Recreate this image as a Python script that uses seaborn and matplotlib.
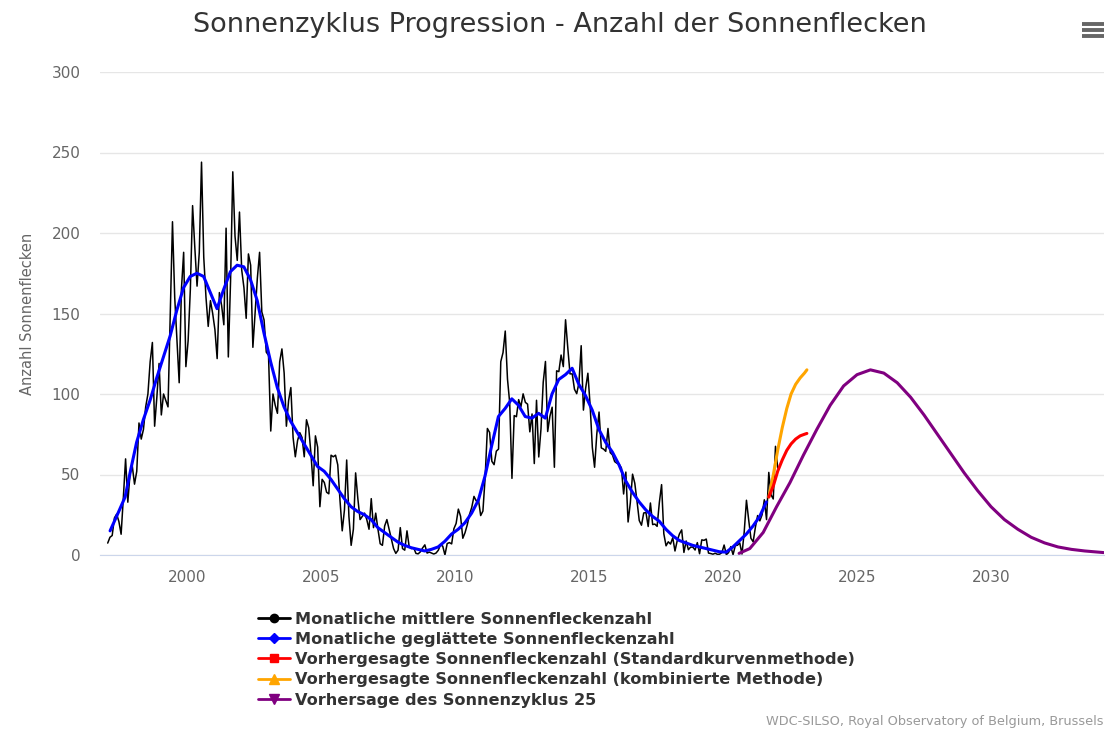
import numpy as np
import pandas as pd
import matplotlib
matplotlib.use("Agg")
import matplotlib.pyplot as plt
from matplotlib.lines import Line2D
import seaborn as sns

# monthly mean sunspot number, Jan 1997 .. Jan 2022
years = list(range(1997, 2022))
monthly = [
    [7.4, 11.0, 12.1, 23.0, 25.4, 20.8, 12.9, 35.7, 59.7, 32.8, 50.6, 55.2],
    [44, 52, 82, 72, 78, 92, 100, 120, 132, 80, 98, 119],
    [87, 100, 96, 92, 150, 207, 160, 134, 107, 165, 188, 117],
    [133, 165, 217, 191, 167, 188, 244, 185, 160, 142, 158, 150],
    [140, 122, 163, 155, 143, 203, 123, 170, 238, 198, 183, 213],
    [177, 166, 147, 187, 180, 129, 150, 172, 188, 151, 146, 126],
    [124, 77, 100, 93, 88, 120, 128, 113, 80, 96, 104, 73],
    [61, 71, 76, 73, 61, 84, 79, 63, 43, 74, 67, 30],
    [47, 45, 39, 38, 62, 61, 62, 56, 34, 15, 28, 59],
    [24, 6, 16, 51, 35, 22, 24, 26, 22, 16, 35, 17],
    [26, 16, 7, 6, 18, 22, 16, 10, 4, 1, 3, 17],
    [4, 3, 15, 5, 4, 4.5, 1, 0.7, 2, 4.4, 6.3, 1.2],
    [1.8, 1.2, 0.6, 1.2, 2.9, 6.3, 5.5, 0.0, 7.1, 7.7, 6.9, 16.3],
    [19.6, 28.5, 24.0, 10.4, 13.9, 18.8, 25.2, 29.6, 36.4, 33.6, 34.4, 24.5],
    [27.3, 48.3, 78.6, 76.1, 58.2, 56.1, 64.5, 65.8, 120.1, 125.7, 139.1, 109.3],
    [94.4, 47.6, 86.6, 85.9, 96.5, 92.0, 100.1, 94.8, 93.7, 76.5, 87.6, 56.8],
    [96.1, 60.9, 78.3, 107.3, 120.2, 76.7, 86.2, 91.8, 54.5, 114.4, 113.9, 124.2],
    [117.0, 146.1, 128.7, 112.5, 112.5, 102.9, 100.2, 106.9, 130.0, 90.0, 103.6, 112.9],
    [93.0, 66.7, 54.5, 75.3, 88.8, 66.5, 65.8, 64.4, 78.6, 63.6, 62.2, 58.0],
    [57.0, 56.4, 54.1, 37.9, 51.5, 20.5, 32.4, 50.2, 44.6, 33.4, 21.4, 18.5],
    [26.1, 26.4, 17.7, 32.3, 18.9, 19.2, 17.8, 32.6, 43.7, 13.2, 5.7, 8.2],
    [6.8, 10.7, 2.5, 8.9, 13.1, 15.6, 1.6, 8.7, 3.3, 4.9, 4.9, 3.1],
    [7.7, 0.8, 9.4, 9.1, 9.9, 1.2, 0.9, 0.5, 1.1, 0.4, 0.5, 1.5],
    [6.2, 0.2, 1.5, 5.2, 0.2, 5.8, 6.1, 7.5, 0.6, 14.4, 34.0, 21.8],
    [10.4, 8.2, 17.2, 24.5, 21.2, 25.0, 34.3, 22.0, 51.3, 37.4, 34.8, 67.5],
]
jan_2022 = 54.0

# 13-month smoothed (quarterly readings)
smooth_t = [1997.13, 1997.40, 1997.69, 1997.90, 1998.12, 1998.37, 1998.62, 1998.87,
            1999.12, 1999.37, 1999.62, 1999.87, 2000.12, 2000.37, 2000.62, 2000.87,
            2001.12, 2001.37, 2001.62, 2001.87, 2002.12, 2002.37, 2002.62, 2002.87,
            2003.12, 2003.37, 2003.62, 2003.87, 2004.12, 2004.37, 2004.62, 2004.87,
            2005.12, 2005.37, 2005.62, 2005.87, 2006.12, 2006.37, 2006.62, 2006.87,
            2007.12, 2007.37, 2007.62, 2007.87, 2008.12, 2008.37, 2008.62, 2008.87,
            2009.12, 2009.37, 2009.62, 2009.87, 2010.12, 2010.37, 2010.62, 2010.87,
            2011.12, 2011.37, 2011.62, 2011.87, 2012.12, 2012.37, 2012.62, 2012.87,
            2013.12, 2013.37, 2013.62, 2013.87, 2014.12, 2014.37, 2014.62, 2014.87,
            2015.12, 2015.37, 2015.62, 2015.87, 2016.12, 2016.37, 2016.62, 2016.87,
            2017.12, 2017.37, 2017.62, 2017.87, 2018.12, 2018.37, 2018.62, 2018.87,
            2019.12, 2019.37, 2019.62, 2019.87, 2020.12, 2020.37, 2020.62, 2020.87,
            2021.12, 2021.37, 2021.62]
smooth_v = [15, 25, 36, 53, 70, 84, 96, 110,
            123, 136, 152, 166, 173, 175, 173, 163,
            153, 165, 176, 180, 179, 171, 158, 138,
            120, 104, 92, 83, 76, 69, 62, 55,
            52, 47, 41, 35, 30, 27, 25, 22,
            17, 14, 11, 8, 6, 4.5, 3.5, 2.5,
            3.5, 5, 8.5, 13, 16, 20, 26, 34,
            49, 68, 86, 91, 97, 93, 86, 85,
            88, 85, 100, 109, 112, 116, 106, 99,
            90, 78, 70, 64, 56, 46, 39, 33,
            28, 24, 21, 16, 12, 9, 7.5, 6,
            5, 4, 3, 2, 1.8, 5, 9, 13,
            18, 24, 33]

# forecasts
std_t = [2021.71, 2021.88, 2022.04, 2022.21, 2022.38, 2022.54, 2022.71, 2022.88, 2023.04, 2023.13]
std_v = [36, 43, 52, 59, 65, 69, 72, 74, 75, 75.5]
comb_t = [2021.71, 2021.88, 2022.04, 2022.21, 2022.38, 2022.54, 2022.71, 2022.88, 2023.04, 2023.13]
comb_v = [36, 50, 65, 79, 91, 100, 106, 110, 113, 115]
c25_t = [2020.6, 2021.0, 2021.5, 2022.0, 2022.5, 2023.0, 2023.5, 2024.0, 2024.5, 2025.0,
         2025.5, 2026.0, 2026.5, 2027.0, 2027.5, 2028.0, 2028.5, 2029.0, 2029.5, 2030.0,
         2030.5, 2031.0, 2031.5, 2032.0, 2032.5, 2033.0, 2033.5, 2034.2]
c25_v = [1, 4, 14, 30, 45, 62, 78, 93, 105, 112,
         115, 113, 107, 98, 87, 75, 63, 51, 40, 30,
         22, 16, 11, 7.5, 5, 3.5, 2.5, 1.5]

labels = ["Monatliche mittlere Sonnenfleckenzahl",
          "Monatliche geglättete Sonnenfleckenzahl",
          "Vorhergesagte Sonnenfleckenzahl (Standardkurvenmethode)",
          "Vorhergesagte Sonnenfleckenzahl (kombinierte Methode)",
          "Vorhersage des Sonnenzyklus 25"]

# build tables
raw_t = [y + (m + 0.5) / 12 for y in years for m in range(12)] + [2022 + 0.5 / 12]
raw_v = [v for row in monthly for v in row] + [jan_2022]
raw = pd.DataFrame({"t": raw_t, "v": raw_v})
smooth = pd.DataFrame({"t": smooth_t, "v": smooth_v})
std = pd.DataFrame({"t": std_t, "v": std_v})
comb = pd.DataFrame({"t": comb_t, "v": comb_v})
c25 = pd.DataFrame({"t": c25_t, "v": c25_v})

sns.set_style("white")
plt.rcParams['font.family'] = ['DejaVu Sans']

fig = plt.figure(figsize=(11.06, 7.34), dpi=100)
ax = fig.add_axes([100 / 1106, 1 - 555 / 734, 1004 / 1106, (555 - 72) / 734])

sns.lineplot(data=raw, x="t", y="v", color="black", lw=1.1, estimator=None, ax=ax)
sns.lineplot(data=smooth, x="t", y="v", color="#0000ff", lw=2.2, estimator=None, ax=ax)
sns.lineplot(data=c25, x="t", y="v", color="#800080", lw=2.2, estimator=None, ax=ax)
sns.lineplot(data=comb, x="t", y="v", color="#ffa500", lw=2.2, estimator=None, ax=ax)
sns.lineplot(data=std, x="t", y="v", color="#ff0000", lw=2.2, estimator=None, ax=ax)

x0 = 2000 + (100 - 187) / 26.8
x1 = 2000 + (1104 - 187) / 26.8
ax.set_xlim(x0, x1)
ax.set_ylim(0, 300)
ax.set_yticks(range(0, 301, 50))
ax.set_xticks(range(2000, 2031, 5))
ax.grid(axis="y", color="#e6e6e6", lw=1)
ax.grid(axis="x", visible=False)
for s in ["top", "right", "left"]:
    ax.spines[s].set_visible(False)
ax.spines["bottom"].set_color("#ccd6eb")
ax.tick_params(axis="x", colors="#666666", labelsize=11, length=9, width=1, direction="out", pad=2)
ax.tick_params(axis="x", color="#ccd6eb")
ax.tick_params(axis="y", colors="#666666", labelsize=11, length=0, pad=14)
ax.set_xlabel("")
ax.set_ylabel("Anzahl Sonnenflecken", color="#666666", fontsize=10.5, labelpad=12)

fig.text(0.506, 0.966, "Sonnenzyklus Progression - Anzahl der Sonnenflecken",
         ha="center", va="center", fontsize=19.5, color="#333333")

# hamburger menu icon
for yy in [24, 30, 36]:
    fig.add_artist(Line2D([1082 / 1106, 1104 / 1106], [1 - yy / 734] * 2,
                          color="#666666", lw=2.8, solid_capstyle="butt"))

handles = [
    Line2D([0], [0], color="black", lw=2, marker="o", markersize=6),
    Line2D([0], [0], color="#0000ff", lw=2, marker="D", markersize=5),
    Line2D([0], [0], color="#ff0000", lw=2, marker="s", markersize=6),
    Line2D([0], [0], color="#ffa500", lw=2, marker="^", markersize=7),
    Line2D([0], [0], color="#800080", lw=2, marker="v", markersize=7),
]
leg = fig.legend(handles, labels, loc="upper left", bbox_to_anchor=(243 / 1106, 1 - 597 / 734),
                 frameon=False, handlelength=2.0, handletextpad=0.3, labelspacing=0.33,
                 prop={"weight": "bold", "size": 11.6})
for t in leg.get_texts():
    t.set_color("#333333")

fig.text(1103 / 1106, 1 - 722 / 734, "WDC-SILSO, Royal Observatory of Belgium, Brussels",
         ha="right", va="center", fontsize=9.3, color="#999999")

fig.savefig("out.png", dpi=100)
